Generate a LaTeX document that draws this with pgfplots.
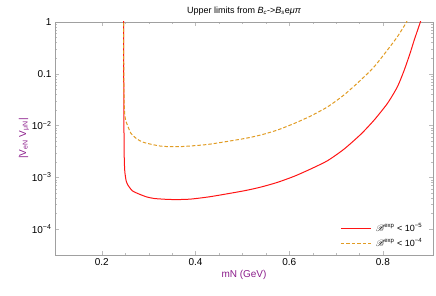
\documentclass[border=0pt]{standalone}
\usepackage{pgfplots}
\pgfplotsset{compat=1.18}
\usepackage{fontspec}
\setmainfont{Liberation Sans}
\setsansfont{Liberation Sans}
\usepackage{mathrsfs}
\definecolor{mred}{RGB}{255,20,20}
\definecolor{morange}{RGB}{225,156,36}
\definecolor{mpurple}{RGB}{140,30,140}
\definecolor{mframe}{RGB}{160,160,160}
\begin{document}
\begin{tikzpicture}[x=1pt,y=1pt]
\useasboundingbox (0,0) rectangle (436,296);
\begin{axis}[
  at={(55pt,41pt)}, anchor=south west,
  scale only axis, width=378pt, height=233pt,
  ymode=log,
  xmin=0.1, xmax=0.907,
  ymin=3.16e-5, ymax=1,
  xtick={0.2,0.4,0.6,0.8},
  xticklabels={0.2,0.4,0.6,0.8},
  minor x tick num=3,
  ytick={1e-4,1e-3,1e-2,0.1,1},
  yticklabels={10\textsuperscript{−4},10\textsuperscript{−3},10\textsuperscript{−2},0.1,1},
  tick align=inside,
  major tick length=4pt, minor tick length=2pt,
  major tick style={mframe!70},
  minor tick style={mframe!70},
  axis line style={mframe},
  tick label style={font=\fontsize{10}{12}\selectfont, black},
  title={Upper limits from \textit{B}\textsubscript{\textit{c}}->\textit{B}\textsubscript{\textit{s}}e\textit{μπ}},
  title style={font=\fontsize{9}{11}\selectfont, yshift=-3pt},
  xlabel={mN (GeV)},
  ylabel={|V\textsubscript{eN} V\textsubscript{μN}|},
  xlabel style={font=\fontsize{10}{12}\selectfont, color=mpurple, yshift=2pt},
  ylabel style={font=\fontsize{10}{12}\selectfont, color=mpurple, yshift=-4pt},
  legend style={draw=none, fill=none, at={(0.985,0.155)}, anchor=north east,
    font=\fontsize{9}{11}\selectfont, row sep=2pt},
  legend cell align=left,
  clip=true,
]
\addplot[color=mred, line width=1pt, smooth, tension=0.4, forget plot] coordinates {
(0.2462,2) (0.2467,0.1) (0.2472,0.01) (0.2478,0.0025) (0.2490,0.0013)
(0.2520,0.00085) (0.2560,0.00070) (0.2650,0.00055) (0.2760,0.00049)
(0.2950,0.00042) (0.3120,0.00039) (0.3400,0.000375) (0.3620,0.000372)
(0.3900,0.000380) (0.4330,0.000425) (0.5040,0.00055) (0.5400,0.00065)
(0.5750,0.00080) (0.6110,0.00105) (0.6460,0.00145) (0.6820,0.0021)
(0.7170,0.0035) (0.7530,0.0068) (0.7815,0.0128) (0.8100,0.027)
(0.8310,0.056) (0.8455,0.117) (0.8580,0.248) (0.8670,0.45) (0.8800,1.0) (0.8830,1.3)
};
\addplot[color=morange, line width=1pt, dash pattern=on 3.5pt off 2pt, smooth, tension=0.4, forget plot] coordinates {
(0.2462,2) (0.2466,0.3) (0.2472,0.05) (0.2485,0.018) (0.2510,0.0125)
(0.2560,0.0095) (0.2620,0.0071) (0.2750,0.0055) (0.2900,0.0047)
(0.3260,0.0040) (0.3620,0.0039) (0.4000,0.0041) (0.4330,0.0044)
(0.5040,0.0056) (0.5400,0.0066) (0.5750,0.0082) (0.6110,0.011)
(0.6460,0.0153) (0.6820,0.023) (0.7170,0.039) (0.7530,0.076)
(0.7815,0.137) (0.8100,0.29) (0.8310,0.52) (0.8506,1.0) (0.8530,1.2)
};
\addlegendimage{empty legend}
\addlegendentry{\tikz[baseline=-0.6ex]\draw[draw=mred, line width=1pt] (0pt,0pt) -- (30pt,0pt);\enspace$\mathscr{B}$\textsuperscript{exp} < 10\textsuperscript{−5}}
\addlegendimage{empty legend}
\addlegendentry{\tikz[baseline=-0.6ex]\draw[draw=morange, line width=1pt, dash pattern=on 3.5pt off 2pt] (0pt,0pt) -- (30pt,0pt);\enspace$\mathscr{B}$\textsuperscript{exp} < 10\textsuperscript{−4}}
\end{axis}
\end{tikzpicture}
\end{document}
